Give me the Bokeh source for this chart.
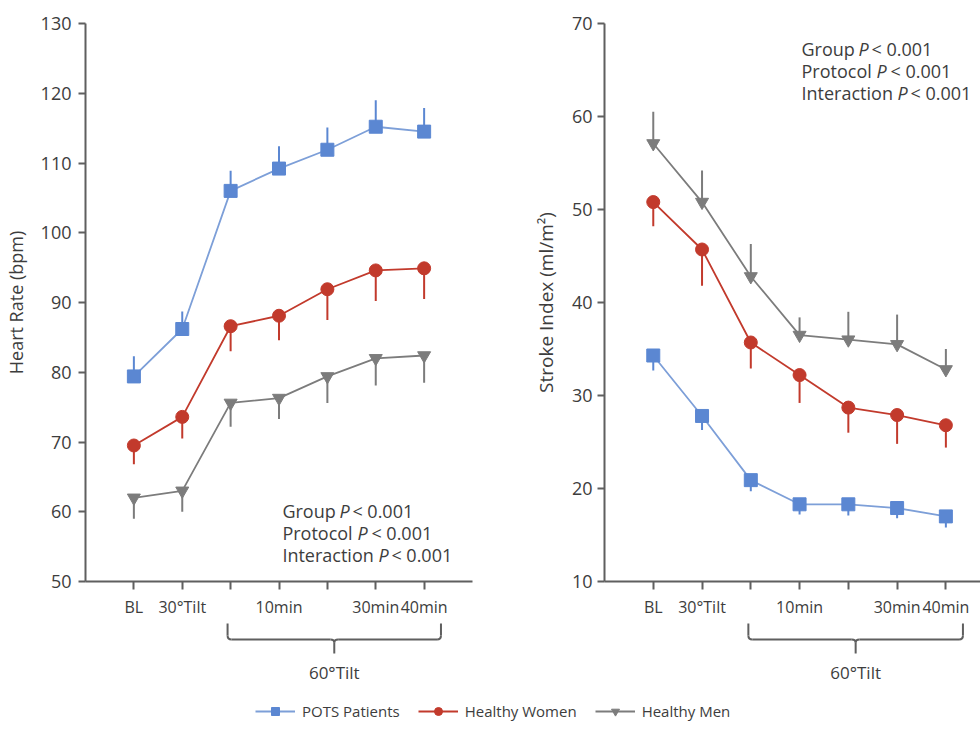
from bokeh.plotting import figure
from bokeh.layouts import column, row
from bokeh.models import (Range1d, FixedTicker, Label, Legend, LegendItem,
                          ColumnDataSource)
from bokeh.core.properties import value
from bokeh.embed import file_html
from bokeh.resources import INLINE

# ---- data -------------------------------------------------------------
steps = [1, 2, 3, 4, 5, 6, 7]
step_labels = ["BL", "30°Tilt", "", "10min", "", "30min", "40min"]
tilt_label = "60°Tilt"

hr_pots = [79.4, 86.2, 106.0, 109.2, 111.9, 115.2, 114.5]
hr_pots_se = [2.9, 2.5, 2.9, 3.2, 3.2, 3.8, 3.4]
hr_women = [69.5, 73.6, 86.6, 88.1, 91.9, 94.6, 94.9]
hr_women_se = [2.7, 3.1, 3.6, 3.5, 4.4, 4.4, 4.4]
hr_men = [62.0, 63.0, 75.6, 76.3, 79.4, 82.0, 82.4]
hr_men_se = [3.0, 3.0, 3.4, 3.0, 3.8, 3.9, 3.9]

si_pots = [34.3, 27.8, 20.9, 18.3, 18.3, 17.9, 17.0]
si_pots_se = [1.6, 1.5, 1.2, 1.1, 1.2, 1.1, 1.2]
si_women = [50.8, 45.7, 35.7, 32.2, 28.7, 27.9, 26.8]
si_women_se = [2.6, 3.9, 2.8, 3.0, 2.7, 3.1, 2.4]
si_men = [57.1, 50.8, 42.8, 36.5, 36.0, 35.5, 32.8]
si_men_se = [3.4, 3.4, 3.5, 1.9, 3.0, 3.2, 2.2]

group_names = ["POTS Patients", "Healthy Women", "Healthy Men"]
stats_lines = [("Group", "< 0.001"), ("Protocol", "< 0.001"),
               ("Interaction", "< 0.001")]

# ---- style ------------------------------------------------------------
FONT = "Open Sans"
TEXT = "#3d3d3d"
AXIS = "#5f5f5f"
BLUE_M, BLUE_L = "#5b87d2", "#7d9fd8"
RED = "#c23a2c"
GRAY = "#7c7c7c"
series_style = [
    dict(color_m=BLUE_M, color_l=BLUE_L, marker="square", size=13),
    dict(color_m=RED, color_l=RED, marker="circle", size=13),
    dict(color_m=GRAY, color_l=GRAY, marker="inverted_triangle", size=13),
]


def style_axes(p, ylabel, label_standoff, ylabel_size):
    p.outline_line_color = None
    p.xgrid.visible = False
    p.ygrid.visible = False
    for ax in (p.xaxis[0], p.yaxis[0]):
        ax.axis_line_color = AXIS
        ax.axis_line_width = 2
        ax.major_tick_line_color = AXIS
        ax.major_tick_line_width = 2
        ax.major_tick_in = 0
        ax.minor_tick_line_color = None
        ax.major_label_text_font = FONT
        ax.major_label_text_color = TEXT
    p.xaxis.major_label_text_font_size = "16px"
    p.yaxis.major_label_text_font_size = "18px"
    p.xaxis.major_tick_out = 8
    p.yaxis.major_tick_out = 7
    p.xaxis.ticker = FixedTicker(ticks=steps)
    p.xaxis.major_label_overrides = {s: l for s, l in zip(steps, step_labels)}
    p.xaxis.major_label_standoff = 6
    p.yaxis.ticker = FixedTicker(ticks=list(range(0, 200, 10)))
    p.yaxis.major_label_standoff = label_standoff
    p.yaxis.axis_label = ylabel
    p.yaxis.axis_label_text_font = FONT
    p.yaxis.axis_label_text_font_size = ylabel_size
    p.yaxis.axis_label_text_font_style = "normal"
    p.yaxis.axis_label_text_color = TEXT
    p.yaxis.axis_label_standoff = 10


def draw_series(p, means, errs, st, up):
    ends = [m + e if up else m - e for m, e in zip(means, errs)]
    p.segment(x0=steps, y0=means, x1=steps, y1=ends,
              line_color=st["color_m"], line_width=2)
    p.line(steps, means, line_color=st["color_l"], line_width=1.8)
    p.scatter(steps, means, marker=st["marker"], size=st["size"],
              fill_color=st["color_m"], line_color=st["color_m"])


def add_stats(p, x, y):
    offs = [(57, 70), (75, 89), (96, 109)]
    for i, ((head, tail), (po, to)) in enumerate(zip(stats_lines, offs)):
        common = dict(x=x, y=y, y_offset=-22 * i, text_baseline="middle",
                      text_font=FONT, text_font_size="18px", text_color=TEXT)
        p.add_layout(Label(text=head, **common))
        p.add_layout(Label(text="P", x_offset=po, text_font_style="italic",
                           **common))
        p.add_layout(Label(text=tail, x_offset=to, **common))


common_fig = dict(output_backend="svg", toolbar_location=None,
                  min_border_top=23, min_border_bottom=38)

# ---- heart rate panel -------------------------------------------------
p1 = figure(width=490, height=620, x_range=Range1d(0, 8),
            y_range=Range1d(50, 130), min_border_left=84,
            min_border_right=18, **common_fig)
style_axes(p1, "Heart Rate (bpm)", 7, "18px")
draw_series(p1, hr_pots, hr_pots_se, series_style[0], True)
draw_series(p1, hr_women, hr_women_se, series_style[1], False)
draw_series(p1, hr_men, hr_men_se, series_style[2], False)
add_stats(p1, 4.07, 60.06)

# ---- stroke index panel -----------------------------------------------
p2 = figure(width=490, height=620, x_range=Range1d(0, 7.71),
            y_range=Range1d(10, 70), min_border_left=114,
            min_border_right=0, **common_fig)
style_axes(p2, "Stroke Index (ml/m²)", 5, "19px")
draw_series(p2, si_men, si_men_se, series_style[2], True)
draw_series(p2, si_women, si_women_se, series_style[1], False)
draw_series(p2, si_pots, si_pots_se, series_style[0], False)
add_stats(p2, 4.04, 67.3)


# ---- 60° tilt brackets under each panel --------------------------------
def bracket_fig(xr, left, right):
    b = figure(width=490, height=70, x_range=xr, y_range=Range1d(70, 0),
               x_axis_type=None, y_axis_type=None, output_backend="svg",
               toolbar_location=None, min_border_left=left,
               min_border_right=right, min_border_top=0, min_border_bottom=0)
    b.outline_line_color = None
    x0, x1 = 2.95, 7.35
    xc = (x0 + x1) / 2
    r = 0.08
    src = ColumnDataSource(dict(
        xs=[[x0, x0], [x0 + r, xc - r], [xc + r, x1 - r], [x1, x1], [xc, xc]],
        ys=[[3, 15], [19, 19], [19, 19], [3, 15], [22, 33]]))
    b.multi_line("xs", "ys", source=src, line_color=AXIS, line_width=2)
    b.quadratic(x0=[x0, x1, xc - r, xc + r], y0=[15, 15, 19, 19],
                x1=[x0 + r, x1 - r, xc, xc], y1=[19, 19, 22, 22],
                cx=[x0, x1, xc, xc], cy=[19, 19, 19, 19],
                line_color=AXIS, line_width=2)
    b.text(x=[xc], y=[52], text=[tilt_label], text_align="center",
           text_baseline="middle", text_font=value(FONT),
           text_font_size="17px", text_color=TEXT)
    return b


b1 = bracket_fig(p1.x_range, 84, 18)
b2 = bracket_fig(p2.x_range, 114, 0)

# ---- shared legend -----------------------------------------------------
leg = figure(width=980, height=41, x_range=Range1d(0, 1),
             y_range=Range1d(0, 1), x_axis_type=None, y_axis_type=None,
             output_backend="svg", toolbar_location=None, min_border=0)
leg.outline_line_color = None
items = []
for name, st in zip(group_names, series_style):
    # off-canvas points: these renderers only supply the legend swatches
    lr = leg.line(x=[-5, -4], y=[-5, -5], line_color=st["color_l"],
                  line_width=1.8)
    sr = leg.scatter(x=[-5], y=[-5], marker=st["marker"],
                     size=st["size"] - 3,
                     fill_color=st["color_m"], line_color=st["color_m"])
    items.append(LegendItem(label=name, renderers=[lr, sr]))
legend = Legend(items=items, orientation="horizontal", location=(255, 10),
                padding=0, margin=0, spacing=18, label_standoff=7,
                glyph_width=40, glyph_height=20, label_height=20,
                label_text_font=FONT, label_text_font_size="15px",
                label_text_color=TEXT, border_line_color=None,
                background_fill_alpha=0)
leg.add_layout(legend, "center")

layout = column(row(p1, p2), row(b1, b2), leg)

open("out.html", "w").write(file_html(layout, INLINE))
